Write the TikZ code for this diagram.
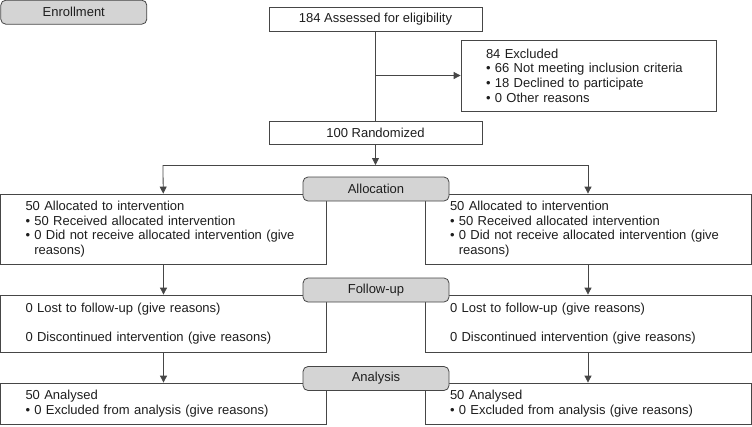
\documentclass[tikz,border=0pt]{standalone}
\usepackage{fontspec}
\setmainfont{Liberation Sans}
\usetikzlibrary{arrows.meta,positioning}
\definecolor{cline}{RGB}{70,70,70}
\definecolor{cstage}{RGB}{212,212,212}
\definecolor{ctext}{RGB}{30,30,30}
\newcommand{\flowfont}{\fontsize{13}{14.7}\selectfont}
\newcommand{\hangin}{\hphantom{\textbullet\ }}
\tikzset{
  stage/.style={draw=cline, fill=cstage, rounded corners=5pt, font=\flowfont,
                text=ctext, minimum width=146, minimum height=24, inner sep=0pt},
  cbox/.style={draw=cline, fill=white, font=\flowfont, text=ctext,
               minimum width=213, minimum height=24, inner sep=0pt},
  tbox/.style={draw=cline, fill=white, font=\flowfont, text=ctext, align=left,
               text width=276pt, inner xsep=25pt, inner ysep=0pt, minimum height=#1},
  link/.style={draw=cline, line width=0.8pt},
  arr/.style={link, -{Triangle[length=7pt,width=7pt]}},
}

\begin{document}
\begin{tikzpicture}[x=1pt, y=-1pt, line width=0.8pt]
\useasboundingbox (0,0) rectangle (752,426);

% Enrollment
\node[stage, minimum width=146] (enroll) at (73.8,12.2) {Enrollment};
\node[cbox] (assess) at (375.5,19) {184 Assessed for eligibility};
\node[tbox=71, text width=205pt] (excl) at (588.5,75.5)
      {84 Excluded\\
       \textbullet\ 66 Not meeting inclusion criteria\\
       \textbullet\ 18 Declined to participate\\
       \textbullet\ 0 Other reasons};
\node[cbox, minimum height=23] (rand) at (375.5,132.5) {100 Randomized};

\coordinate (branch) at (375.5,75.5);
\coordinate (split)  at (375.5,165);
\coordinate (splitL) at (163,165);
\coordinate (splitR) at (588,165);

% Allocation
\node[tbox=70] (allocL) at (163.5,229)
      {50 Allocated to intervention\\
       \textbullet\ 50 Received allocated intervention\\
       \textbullet\ 0 Did not receive allocated intervention (give\\
       \hangin reasons)};
\node[tbox=70] (allocR) at (588,229)
      {50 Allocated to intervention\\
       \textbullet\ 50 Received allocated intervention\\
       \textbullet\ 0 Did not receive allocated intervention (give\\
       \hangin reasons)};

% Follow-up
\node[tbox=57] (followL) at (163.5,323.5)
      {0 Lost to follow-up (give reasons)\\[14.7pt]
       0 Discontinued intervention (give reasons)};
\node[tbox=57] (followR) at (588,323.5)
      {0 Lost to follow-up (give reasons)\\[14.7pt]
       0 Discontinued intervention (give reasons)};

% Analysis
\node[tbox=41] (analL) at (163.5,403.5)
      {50 Analysed\\
       \textbullet\ 0 Excluded from analysis (give reasons)};
\node[tbox=41] (analR) at (588,403.5)
      {50 Analysed\\
       \textbullet\ 0 Excluded from analysis (give reasons)};

% Stage labels
\node[stage] (sAlloc)  at (376,189)   {Allocation};
\node[stage] (sFollow) at (376,290)   {Follow-up};
\node[stage] (sAnal)   at (376,378.5) {Analysis};

% Connections
\draw[link] (assess) -- (rand);
\draw[arr] (branch) -- (excl);
\draw[arr] (rand) -- (split);
\draw[link] (splitL) -- (splitR);
\draw[arr] (splitL) -- (allocL);
\draw[arr] (splitR) -- (allocR);
\draw[arr] (allocL) -- (followL);
\draw[arr] (allocR) -- (followR);
\draw[arr] (followL) -- (analL);
\draw[arr] (followR) -- (analR);

\end{tikzpicture}
\end{document}
